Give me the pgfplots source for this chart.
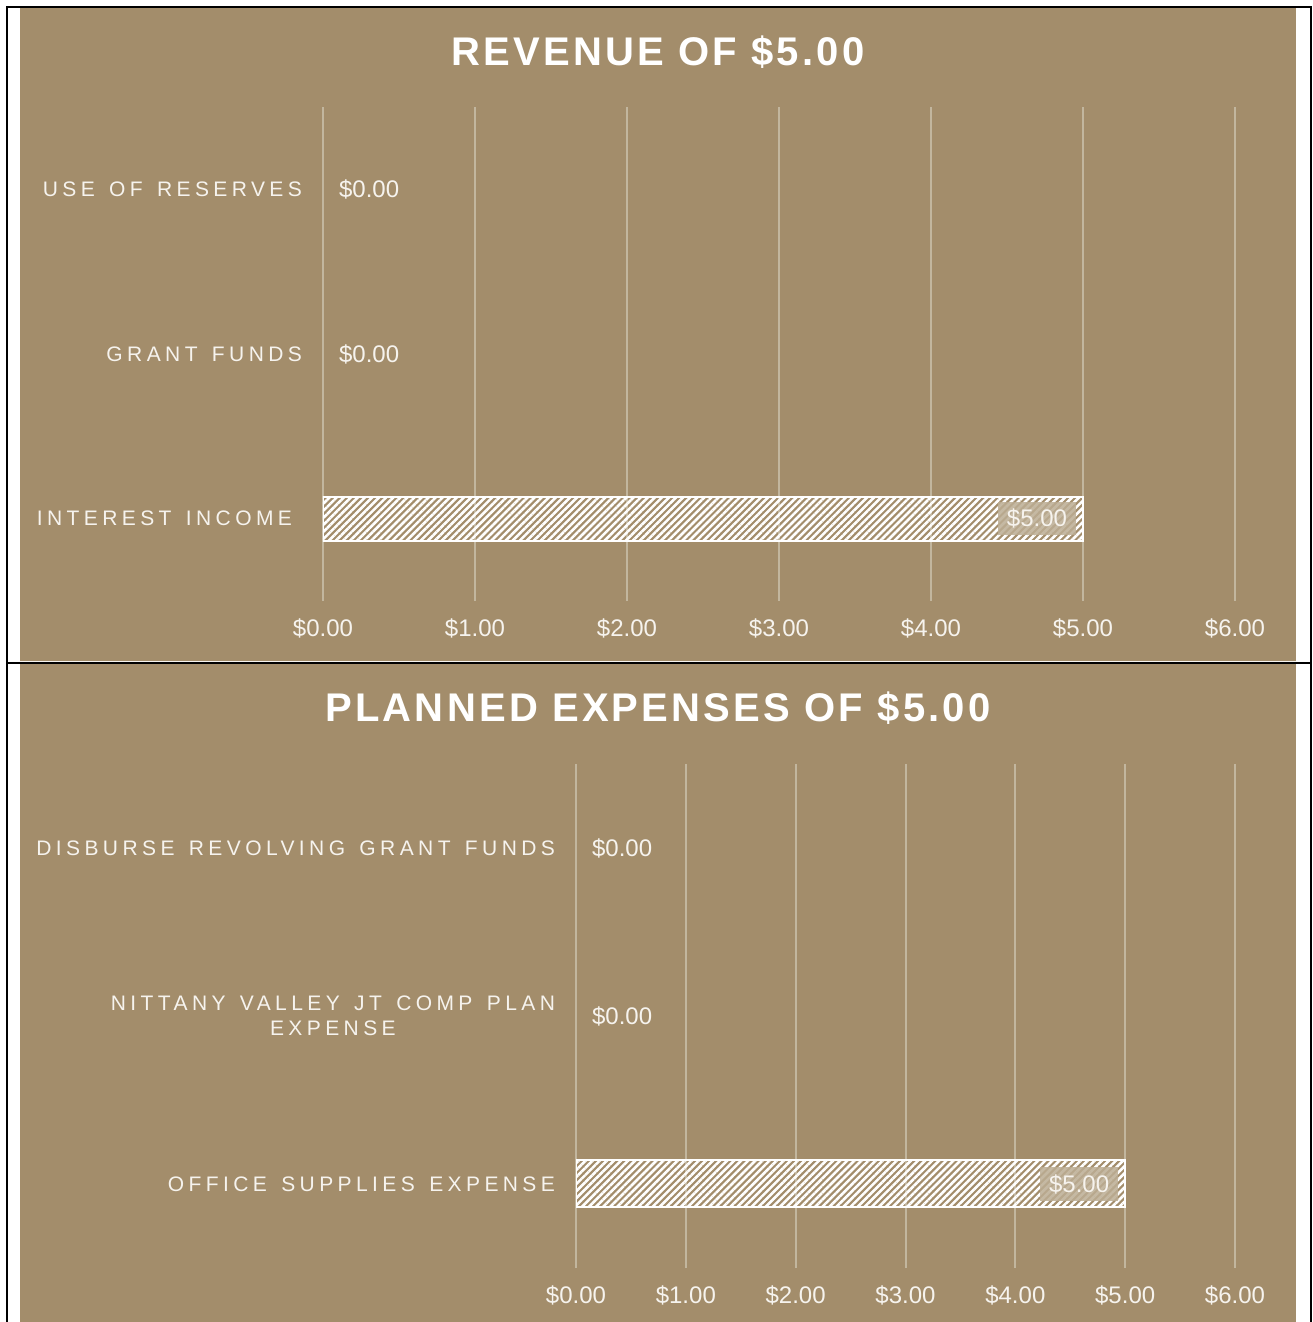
\documentclass[border=0pt]{standalone}
\usepackage{fontspec}
\setmainfont{Liberation Sans}
\newfontfamily\catfont[LetterSpace=21,WordSpace=1.4]{Liberation Sans}
\newfontfamily\titlefont[LetterSpace=8]{Liberation Sans}
\usepackage{pgfplots}
\pgfplotsset{compat=1.18}
\usetikzlibrary{patterns.meta}
\definecolor{panel}{RGB}{163,141,107}
\definecolor{gridc}{RGB}{194,182,158}
\definecolor{ink}{RGB}{246,243,238}
\definecolor{lblbox}{RGB}{188,173,148}

\pgfplotsset{
  budget/.style={
    scale only axis, xbar, bar shift=0pt,
    xmin=0, xmax=6, xtick={0,...,6},
    ymin=-0.5, ymax=2.5, ytick={0,1,2},
    axis line style={draw=none}, major tick length=0pt,
    xmajorgrids, grid style={gridc, line width=1pt},
    /pgf/number format/assume math mode=true,
    xticklabel={\$\pgfmathprintnumber[fixed,fixed zerofill,precision=2]{\tick}},
    xticklabel style={font=\fontsize{12}{14}\selectfont, text=ink, yshift=-5.5pt},
    yticklabel style={font=\catfont\fontsize{10.5}{12.5}\selectfont, text=ink, align=center, xshift=-7pt},
    nodes near coords={\$\pgfmathprintnumber[fixed,fixed zerofill,precision=2]{\pgfplotspointmeta}},
    nodes near coords style={font=\fontsize{12}{14}\selectfont, text=ink},
  },
  hatchbar/.style={xbar, draw=white, line width=1pt,
    pattern={Lines[angle=45,distance=2.5pt,line width=1.3pt]}, pattern color=white,
    nodes near coords style={anchor=east, xshift=-3pt, fill=lblbox, fill opacity=0.85,
      text opacity=1, inner xsep=4.5pt, inner ysep=3.5pt}},
  zerobar/.style={xbar, draw=none, fill=none,
    nodes near coords style={anchor=west, xshift=4.5pt}},
}

\begin{document}
\begin{tikzpicture}
\path[use as bounding box] (0,0) rectangle (656pt,661pt);
\fill[panel] (10pt,330.5pt) rectangle (648pt,657pt);
\fill[panel] (10pt,0pt) rectangle (648pt,329pt);
\draw[ink, line width=0.5pt] (10pt,330.4pt) -- (648pt,330.4pt);
\draw[black, line width=1.2pt] (3.5pt,0pt) -- (3.5pt,657.5pt) -- (655.5pt,657.5pt) -- (655.5pt,0pt);
\draw[black, line width=1.2pt] (3pt,329.5pt) -- (656pt,329.5pt);

\node[font=\titlefont\bfseries\fontsize{20}{24}\selectfont, text=white] at (329pt,635pt) {REVENUE OF \$5.00};
\node[font=\titlefont\bfseries\fontsize{20}{24}\selectfont, text=white] at (329pt,307pt) {PLANNED EXPENSES OF \$5.00};

% revenue
\begin{axis}[budget, at={(161.5pt,360.5pt)}, anchor=south west,
  width=456pt, height=247pt,
  yticklabels={INTEREST INCOME\hspace{5pt}, GRANT FUNDS, USE OF RESERVES}]
\addplot[hatchbar, bar width=22pt] coordinates {(5,0)};
\addplot[zerobar, bar width=22pt] coordinates {(0,1) (0,2)};
\end{axis}

% expenses
\begin{axis}[budget, at={(288pt,27pt)}, anchor=south west,
  width=329.5pt, height=252pt,
  yticklabels={OFFICE SUPPLIES EXPENSE, {NITTANY VALLEY JT COMP PLAN\\EXPENSE}, DISBURSE REVOLVING GRANT FUNDS}]
\addplot[hatchbar, bar width=23.5pt] coordinates {(5,0)};
\addplot[zerobar, bar width=23.5pt] coordinates {(0,1) (0,2)};
\end{axis}
\end{tikzpicture}
\end{document}
